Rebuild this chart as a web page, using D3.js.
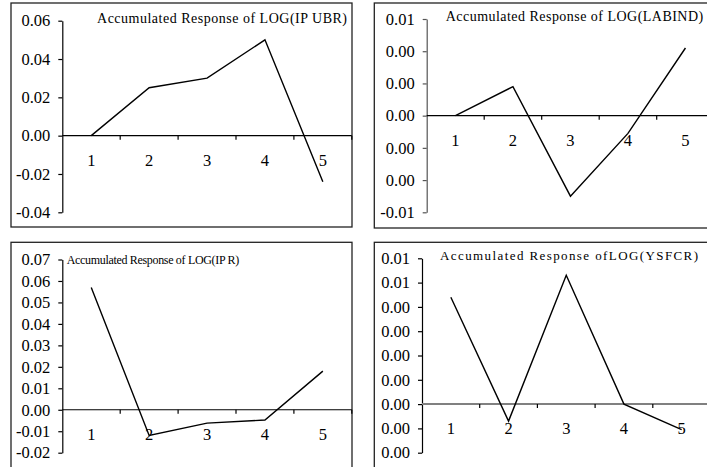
<!DOCTYPE html>
<html>
<head>
    <title>Accumulated Responses</title>
    <script src="https://cdn.jsdelivr.net/npm/d3@7"></script>
    <style>
        body { margin: 0; background: #fff; }
        text { font-family: "Liberation Serif", "Times New Roman", serif; fill: #000; }
    </style>
</head>
<body>
<svg width="707" height="467"></svg>

<script>
    // Periods on the x axis
    const periods = ["1", "2", "3", "4", "5"];

    // Accumulated responses
    const ipubr = [0.000, 0.025, 0.030, 0.050, -0.024];
    const labind = [0.000, 0.0018, -0.0050, -0.0011, 0.0042];
    const ipr = [0.057, -0.012, -0.0062, -0.0048, 0.018];
    const ysfcr = [0.0044, -0.0007, 0.0053, 0.000, -0.00105];

    // Tick values of each y axis
    const ticksIpubr = [-0.04, -0.02, 0, 0.02, 0.04, 0.06];
    const ticksLabind = [-0.006, -0.004, -0.002, 0, 0.002, 0.004, 0.006];
    const ticksIpr = [-0.02, -0.01, 0, 0.01, 0.02, 0.03, 0.04, 0.05, 0.06, 0.07];
    const ticksYsfcr = [-0.002, -0.001, 0, 0.001, 0.002, 0.003, 0.004, 0.005, 0.006];

    const titles = [
        "Accumulated Response of LOG(IP UBR)",
        "Accumulated Response of LOG(LABIND)",
        "Accumulated Response of LOG(IP R)",
        "Accumulated Response ofLOG(YSFCR)"
    ];

    // Panel geometry (frame, axis position, title box)
    const panels = [
        { values: ipubr, ticks: ticksIpubr, title: titles[0],
          frame: [11, 3, 341, 224], ax: 62.3, band: 57.9, yTop: 20.7, yBot: 212.3,
          tx: 97, ty: 22.5, tw: 250, fs: 14, axisColor: "#000", yColor: "#000" },
        { values: labind, ticks: ticksLabind, title: titles[1],
          frame: [374.3, 3, 340, 225], ax: 426.7, band: 57.5, yTop: 19, yBot: 212.3,
          tx: 445.7, ty: 20.7, tw: 257.5, fs: 14, axisColor: "#000", yColor: "#555" },
        { values: ipr, ticks: ticksIpr, title: titles[2],
          frame: [11, 242.3, 341, 240], ax: 62.3, band: 57.9, yTop: 259.5, yBot: 452.7,
          tx: 66.7, ty: 264, tw: 172.5, fs: 12, axisColor: "#000", yColor: "#000" },
        { values: ysfcr, ticks: ticksYsfcr, title: titles[3],
          frame: [374.3, 242.3, 340, 240], ax: 422, band: 57.7, yTop: 258.3, yBot: 452.7,
          tx: 440, ty: 259.5, tw: 258, fs: 13, axisColor: "#808080", yColor: "#000" }
    ];

    const fmt = v => {
        const s = v.toFixed(2);
        return s === "-0.00" ? "0.00" : s;
    };

    const svg = d3.select("svg");

    panels.forEach(p => {
        const g = svg.append("g");

        // Frame
        g.append("rect")
            .attr("x", p.frame[0])
            .attr("y", p.frame[1])
            .attr("width", p.frame[2])
            .attr("height", p.frame[3])
            .attr("fill", "none")
            .attr("stroke", "#222")
            .attr("stroke-width", 1.3);

        const x = d3.scaleBand()
            .domain(periods)
            .range([p.ax, p.ax + p.band * periods.length])
            .padding(0);

        const y = d3.scaleLinear()
            .domain([d3.min(p.ticks), d3.max(p.ticks)])
            .range([p.yBot, p.yTop]);

        // Y axis
        const yAxis = g.append("g")
            .attr("transform", `translate(${p.ax},0)`)
            .call(d3.axisLeft(y)
                .tickValues(p.ticks)
                .tickFormat(fmt)
                .tickSize(4)
                .tickSizeOuter(0)
                .tickPadding(8));
        yAxis.select(".domain").attr("stroke", p.yColor).attr("stroke-width", 1.2);
        yAxis.selectAll(".tick line").attr("stroke", p.yColor).attr("stroke-width", 1.2);
        yAxis.selectAll(".tick text")
            .attr("font-size", "16.5px")
            .attr("fill", "#000");

        // X axis at zero, tick marks between categories
        const y0 = y(0);
        g.append("line")
            .attr("x1", p.ax)
            .attr("x2", p.ax + p.band * periods.length)
            .attr("y1", y0)
            .attr("y2", y0)
            .attr("stroke", p.axisColor)
            .attr("stroke-width", p.axisColor === "#000" ? 1.2 : 2);

        g.selectAll(".xtick")
            .data(periods.slice(1).concat(["end"]))
            .enter().append("line")
            .attr("class", "xtick")
            .attr("x1", d => d === "end" ? x.range()[1] : x(d))
            .attr("x2", d => d === "end" ? x.range()[1] : x(d))
            .attr("y1", y0)
            .attr("y2", y0 + 4)
            .attr("stroke", "#000")
            .attr("stroke-width", 1.2);

        g.selectAll(".xlabel")
            .data(periods)
            .enter().append("text")
            .attr("class", "xlabel")
            .attr("x", d => x(d) + x.bandwidth() / 2)
            .attr("y", y0 + 30)
            .attr("text-anchor", "middle")
            .attr("font-size", "16.5px")
            .text(d => d);

        // Response line
        const line = d3.line()
            .x((d, i) => x(periods[i]) + x.bandwidth() / 2)
            .y(d => y(d));

        g.append("path")
            .datum(p.values)
            .attr("d", line)
            .attr("fill", "none")
            .attr("stroke", "#000")
            .attr("stroke-width", 1.4);

        // Title
        g.append("text")
            .attr("x", p.tx)
            .attr("y", p.ty)
            .attr("font-size", p.fs + "px")
            .attr("textLength", p.tw)
            .attr("lengthAdjust", "spacing")
            .text(p.title);
    });
</script>
</body>
</html>
